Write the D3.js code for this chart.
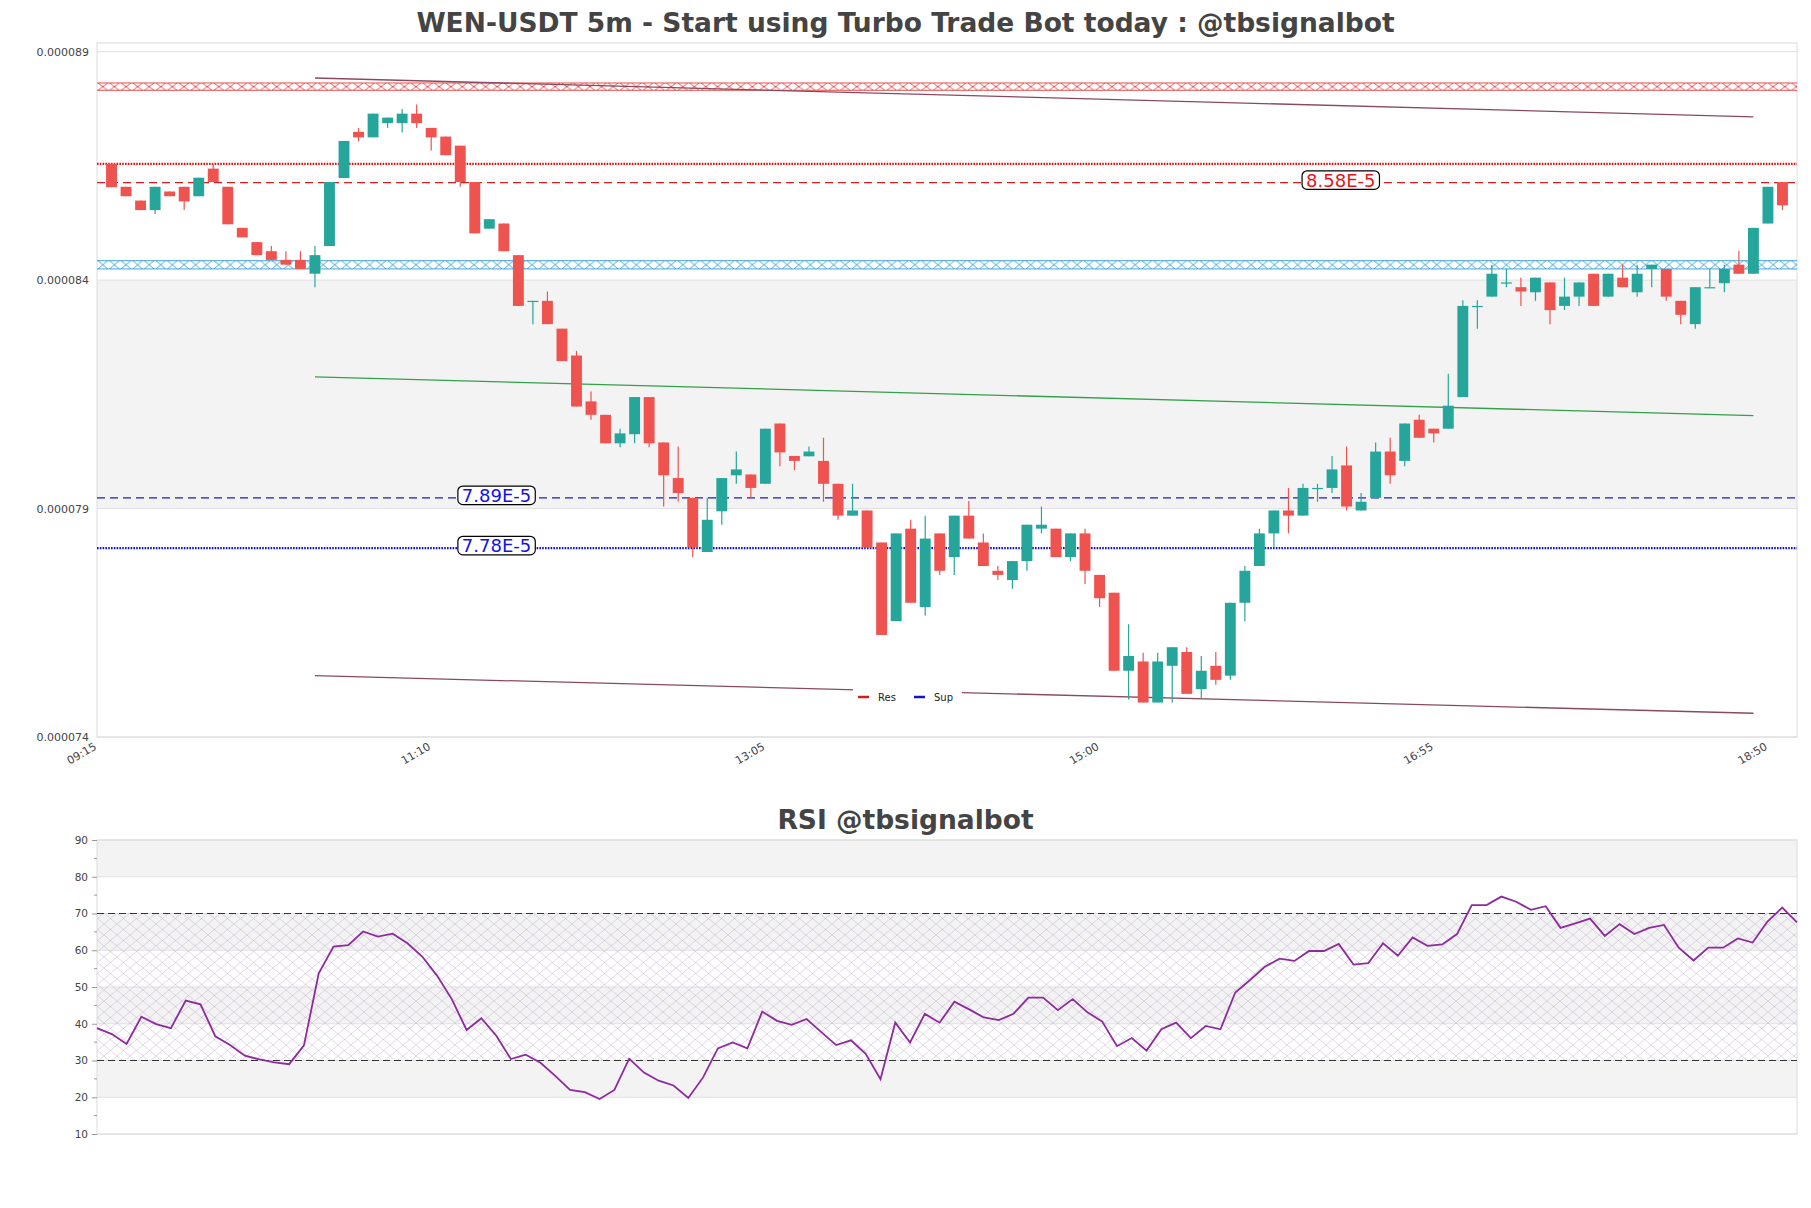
<!DOCTYPE html>
<html><head><meta charset="utf-8">
<script src="https://cdn.jsdelivr.net/npm/d3@7"></script>
<style>body{margin:0;background:#fff} svg{display:block;font-family:"DejaVu Sans",sans-serif}</style>
</head><body><svg id="c" width="1811" height="1208"></svg>
<script>
// ---------- DATA (prices in units of 1e-5 USDT) ----------
const titleMain = "WEN-USDT 5m - Start using Turbo Trade Bot today : @tbsignalbot";
const titleRsi = "RSI @tbsignalbot";
const xTickIndex = [-1, 22, 45, 68, 91, 114];
const xTickLabels = ["09:15", "11:10", "13:05", "15:00", "16:55", "18:50"];
const yTickValues = [7.3666, 7.8666, 8.3666, 8.8666];
const rsiTicks = [10, 20, 30, 40, 50, 60, 70, 80, 90];

const open = [8.6210,8.5708,8.5406,8.5198,8.5605,8.5708,8.5501,8.6106,8.5708,8.4809,8.4497,8.4298,8.4108,8.4108,8.3805,8.4411,8.5899,8.6911,8.6790,8.7101,8.7101,8.7309,8.6997,8.6807,8.6608,8.5812,8.4791,8.4904,8.4212,8.3205,8.3212,8.2603,8.2015,8.1011,8.0717,8.0094,8.0293,8.1106,8.0112,7.9333,7.8900,7.7715,7.8606,7.9394,7.9411,7.9208,8.0527,7.9817,7.9809,7.9709,7.9208,7.8511,7.8624,7.7923,7.6202,7.8226,7.6509,7.8122,7.7603,7.8511,7.7923,7.7304,7.7101,7.7516,7.8226,7.8226,7.7603,7.8122,7.7214,7.6824,7.5116,7.5319,7.4420,7.5224,7.5527,7.4714,7.5224,7.5008,7.6604,7.7408,7.8122,7.8624,7.8511,7.9110,7.9117,7.9610,7.8624,7.8900,7.9913,7.9709,8.0609,8.0414,8.0414,8.1106,8.3095,8.3304,8.3610,8.3511,8.3399,8.3615,8.3101,8.3304,8.3805,8.3304,8.3719,8.3399,8.3909,8.3909,8.3212,8.2702,8.3505,8.3598,8.4004,8.3805,8.4904,8.5812];
const high = [8.6210,8.5708,8.5406,8.5708,8.5605,8.5708,8.5907,8.6210,8.5708,8.4809,8.4497,8.4411,8.4298,8.4298,8.4411,8.5812,8.6712,8.6997,8.7309,8.7222,8.7413,8.7508,8.6997,8.6807,8.6608,8.5812,8.4999,8.4904,8.4212,8.3212,8.3416,8.2603,8.2118,8.1227,8.0717,8.0414,8.1106,8.1106,8.0112,8.0025,7.8900,7.8900,7.9333,7.9913,7.9411,8.0414,8.0527,7.9817,8.0025,8.0215,7.9208,7.9208,7.8624,7.7923,7.8122,7.8420,7.8511,7.8122,7.8511,7.8831,7.8122,7.7408,7.7516,7.8312,7.8710,7.8226,7.8122,7.8226,7.7214,7.6824,7.6132,7.5509,7.5509,7.5631,7.5631,7.5440,7.5527,7.6604,7.7408,7.8226,7.8624,7.9117,7.9208,7.9208,7.9817,8.0025,7.9004,8.0112,8.0215,8.0527,8.0717,8.0414,8.1617,8.3226,8.3226,8.4004,8.3918,8.3719,8.3719,8.3615,8.3719,8.3615,8.3805,8.3805,8.4004,8.4004,8.4004,8.3909,8.3212,8.3511,8.3909,8.4004,8.4307,8.4809,8.5708,8.5812];
const low = [8.5700,8.5501,8.5198,8.5112,8.5501,8.5198,8.5501,8.5812,8.4887,8.4601,8.4212,8.4108,8.4004,8.3909,8.3511,8.4411,8.5899,8.6703,8.6790,8.6997,8.6894,8.6997,8.6504,8.6400,8.5708,8.4688,8.4791,8.4298,8.3101,8.2702,8.2702,8.1894,8.0899,8.0609,8.0094,8.0008,8.0094,8.0008,7.8710,7.8814,7.7603,7.7715,7.8312,7.9208,7.8900,7.9208,7.9593,7.9506,7.9809,7.8814,7.8420,7.8511,7.7814,7.5899,7.6202,7.6604,7.6323,7.7214,7.7214,7.8009,7.7408,7.7101,7.6911,7.7304,7.8122,7.7603,7.7516,7.7015,7.6509,7.5116,7.4489,7.4420,7.4420,7.4420,7.4610,7.4515,7.4809,7.4917,7.6202,7.7408,7.7814,7.8122,7.8511,7.8814,7.9004,7.8624,7.8624,7.8900,7.9208,7.9593,8.0215,8.0112,8.0414,8.1106,8.2603,8.3304,8.3511,8.3101,8.3212,8.2702,8.3009,8.3101,8.3101,8.3304,8.3511,8.3304,8.3511,8.3212,8.2702,8.2603,8.3505,8.3399,8.3805,8.3805,8.4904,8.5198];
const close = [8.5700,8.5501,8.5198,8.5708,8.5501,8.5388,8.5907,8.5812,8.4887,8.4601,8.4212,8.4108,8.4004,8.3909,8.4212,8.5812,8.6712,8.6790,8.7309,8.7222,8.7309,8.7101,8.6790,8.6400,8.5812,8.4688,8.4999,8.4298,8.3101,8.3212,8.2702,8.1894,8.0899,8.0717,8.0094,8.0311,8.1106,8.0094,7.9394,7.9004,7.7814,7.8420,7.9333,7.9523,7.9117,8.0414,7.9895,7.9709,7.9913,7.9208,7.8511,7.8624,7.7814,7.5899,7.8122,7.6604,7.8009,7.7304,7.8511,7.8009,7.7408,7.7214,7.7516,7.8312,7.8312,7.7603,7.8122,7.7304,7.6703,7.5116,7.5440,7.4420,7.5319,7.5631,7.4610,7.5116,7.4917,7.6604,7.7304,7.8122,7.8624,7.8511,7.9117,7.9117,7.9523,7.8710,7.8814,7.9913,7.9394,8.0527,8.0215,8.0311,8.0916,8.3101,8.3101,8.3805,8.3615,8.3416,8.3719,8.3009,8.3304,8.3615,8.3101,8.3805,8.3511,8.3805,8.4004,8.3304,8.2906,8.3511,8.3511,8.3909,8.3805,8.4809,8.5708,8.5302];

const rsi = [38.8,37.2,34.5,41.9,39.9,38.8,46.3,45.3,36.6,34.2,31.3,30.3,29.5,29.0,34.1,53.7,61.0,61.4,65.1,63.7,64.5,61.9,58.3,53.1,46.7,38.3,41.5,36.8,30.4,31.6,29.4,25.8,22.0,21.4,19.5,22.0,30.5,26.7,24.5,23.2,19.8,25.4,33.3,34.9,33.3,43.3,40.8,39.7,41.3,37.7,34.2,35.5,31.8,24.9,40.3,34.9,42.7,40.3,46.0,43.9,41.7,41.0,42.7,47.1,47.1,43.7,46.7,43.1,40.6,33.9,36.1,32.7,38.5,40.3,36.1,39.4,38.5,48.5,51.9,55.5,57.7,57.1,59.8,59.8,61.7,56.1,56.5,61.9,58.5,63.5,61.2,61.6,64.4,72.3,72.3,74.6,73.2,71.0,72.0,66.1,67.3,68.6,63.9,67.1,64.4,66.1,66.9,60.7,57.2,60.7,60.7,63.2,62.1,67.8,71.6,67.6];

// horizontal levels
const resZone = [8.782, 8.798];
const supZone = [8.391, 8.409];
const resDotted = 8.6209;
const resDashed = 8.58;
const supDashed = 7.89;
const supDotted = 7.78;
const levelLabels = [
  {text: "8.58E-5", value: 8.58, at: 84.6, color: "#e8141c"},
  {text: "7.89E-5", value: 7.89, at: 26.5, color: "#1212e6"},
  {text: "7.78E-5", value: 7.78, at: 26.5, color: "#1212e6"}
];
// regression channel (start index, end index, start value, end value)
const chanIdx = [14, 113];
const chanUpper = [8.8089, 8.7240];
const chanMid = [8.1548, 8.0700];
const chanLower = [7.5008, 7.4186];
const legendItems = [{name: "Res", color: "#d61a1a"}, {name: "Sup", color: "#1515c8"}];

// ---------- LAYOUT ----------
const svg = d3.select("#c");
const P = {l: 97, r: 1797, t: 43, b: 737};
const Q = {t: 840, b: 1134};
const x = d3.scaleLinear().domain([-1, 116]).range([P.l, P.r]);
const y = d3.scaleLinear().domain([7.3666, 8.8855]).range([P.b, P.t]);
const xr = d3.scaleLinear().domain([0, rsi.length - 1]).range([P.l, P.r]);
const yr = d3.scaleLinear().domain([10, 90]).range([Q.b, Q.t]);
const bw = (x(1) - x(0)) * 0.75;
const up = "#26a69a", dn = "#ef5350";

svg.append("rect").attr("width", 1811).attr("height", 1208).attr("fill", "#fff");

// titles
svg.append("text").attr("x", 905.5).attr("y", 32).attr("text-anchor", "middle")
  .attr("font-size", 26.5).attr("font-weight", "bold").attr("fill", "#444").text(titleMain);
svg.append("text").attr("x", 905.5).attr("y", 829).attr("text-anchor", "middle")
  .attr("font-size", 26.5).attr("font-weight", "bold").attr("fill", "#444").text(titleRsi);

const defs = svg.append("defs");
function hatch(id, color, y0, h) {
  const p = defs.append("pattern").attr("id", id).attr("patternUnits", "userSpaceOnUse")
    .attr("x", P.l).attr("y", y0).attr("width", 11.6).attr("height", h);
  p.append("path").attr("d", `M1,0L10.6,${h}M1,${h}L10.6,0`).attr("stroke", color)
    .attr("stroke-width", 0.9).attr("fill", "none");
}
const rsiHatch = defs.append("pattern").attr("id", "rsiHatch").attr("patternUnits", "userSpaceOnUse")
  .attr("width", 13).attr("height", 11);
rsiHatch.append("path").attr("d", "M0,0L13,11M0,11L13,0").attr("stroke", "#bfb2cf")
  .attr("stroke-width", 0.6).attr("fill", "none").attr("opacity", 0.85);

// ---------- MAIN PANEL ----------
const main = svg.append("g");
main.append("rect").attr("x", P.l).attr("width", P.r - P.l)
  .attr("y", y(yTickValues[2])).attr("height", y(yTickValues[1]) - y(yTickValues[2])).attr("fill", "#f3f3f3");
main.selectAll(".grid").data(yTickValues).join("line")
  .attr("x1", P.l).attr("x2", P.r).attr("y1", d => y(d)).attr("y2", d => y(d))
  .attr("stroke", "#e0e0e0").attr("stroke-width", 1);
main.append("rect").attr("x", P.l).attr("y", P.t).attr("width", P.r - P.l).attr("height", P.b - P.t)
  .attr("fill", "none").attr("stroke", "#dcdcdc");

// y axis
const ya = main.append("g").attr("transform", `translate(${P.l},0)`)
  .call(d3.axisLeft(y).tickValues(yTickValues).tickSize(0).tickPadding(8)
    .tickFormat(d => (d * 1e-5).toFixed(6)));
ya.select(".domain").remove();
ya.selectAll("text").attr("font-size", 11).attr("fill", "#444").attr("font-family", "DejaVu Sans");

// x labels
main.selectAll(".xl").data(xTickIndex).join("text")
  .attr("transform", d => `translate(${x(d) - 2},${P.b + 8}) rotate(-30)`)
  .attr("text-anchor", "end").attr("font-size", 11).attr("fill", "#444")
  .attr("dy", "0.4em").text((d, i) => xTickLabels[i]);

// hatched zones
function zone(z, id, color) {
  const y0 = y(z[1]), h = y(z[0]) - y(z[1]);
  hatch(id, color, y0, h);
  main.append("rect").attr("x", P.l).attr("width", P.r - P.l).attr("y", y0).attr("height", h)
    .attr("fill", `url(#${id})`);
  main.append("line").attr("x1", P.l).attr("x2", P.r).attr("y1", y0).attr("y2", y0).attr("stroke", color).attr("stroke-width", 0.9);
  main.append("line").attr("x1", P.l).attr("x2", P.r).attr("y1", y0 + h).attr("y2", y0 + h).attr("stroke", color).attr("stroke-width", 0.9);
}
zone(resZone, "hr", "#e23b3b");
zone(supZone, "hb", "#2a9ad8");

function hline(v, color, w, dash) {
  main.append("line").attr("x1", P.l).attr("x2", P.r).attr("y1", y(v)).attr("y2", y(v))
    .attr("stroke", color).attr("stroke-width", w).attr("stroke-dasharray", dash);
}
hline(resDotted, "#e31010", 2.2, "1.6,1.2");
hline(resDashed, "#d81e1e", 1.4, "8,5");
hline(supDashed, "#1a1acc", 1.4, "8,5");
hline(supDotted, "#1010dd", 2.2, "1.6,1.2");

// channel lines
function chan(vals, color) {
  main.append("line").attr("x1", x(chanIdx[0])).attr("x2", x(chanIdx[1]))
    .attr("y1", y(vals[0])).attr("y2", y(vals[1])).attr("stroke", color).attr("stroke-width", 1.3);
}
chan(chanUpper, "#8a4a5e");
chan(chanMid, "#33a04a");
chan(chanLower, "#8a4a5e");

// candles
const idx = d3.range(open.length);
const cg = main.append("g");
cg.selectAll(".wick").data(idx).join("line")
  .attr("x1", i => x(i)).attr("x2", i => x(i))
  .attr("y1", i => y(high[i])).attr("y2", i => y(low[i]))
  .attr("stroke", i => close[i] >= open[i] ? up : dn).attr("stroke-width", 1.2);
cg.selectAll(".body").data(idx).join("rect")
  .attr("x", i => x(i) - bw / 2).attr("width", bw)
  .attr("y", i => y(Math.max(open[i], close[i])))
  .attr("height", i => Math.max(1.2, Math.abs(y(open[i]) - y(close[i]))))
  .attr("fill", i => close[i] >= open[i] ? up : dn);

// level labels
levelLabels.forEach(L => {
  const g = main.append("g");
  const t = g.append("text").attr("x", x(L.at)).attr("y", y(L.value) - 2.5).attr("dy", "0.36em")
    .attr("text-anchor", "middle").attr("font-size", 18).attr("fill", L.color).text(L.text);
  const bb = t.node().getBBox();
  g.insert("rect", "text").attr("x", bb.x - 4).attr("y", y(L.value) - 2.5 - 9.3)
    .attr("width", bb.width + 8).attr("height", 18.6).attr("rx", 5)
    .attr("fill", "#fff").attr("stroke", "#000").attr("stroke-width", 1.2);
});

// legend
const lg = main.append("g").attr("transform", `translate(853,686)`);
lg.append("rect").attr("width", 109).attr("height", 21).attr("fill", "#fff");
legendItems.forEach((d, i) => {
  const gx = 5 + i * 56;
  lg.append("line").attr("x1", gx).attr("x2", gx + 11).attr("y1", 11).attr("y2", 11)
    .attr("stroke", d.color).attr("stroke-width", 2.5);
  lg.append("text").attr("x", gx + 20).attr("y", 11).attr("dy", "0.35em")
    .attr("font-size", 10).attr("fill", "#222").text(d.name);
});

// ---------- RSI PANEL ----------
const rp = svg.append("g");
[[80, 90], [60, 70], [40, 50], [20, 30]].forEach(b => {
  rp.append("rect").attr("x", P.l).attr("width", P.r - P.l).attr("y", yr(b[1]))
    .attr("height", yr(b[0]) - yr(b[1])).attr("fill", "#f3f3f3");
});
rp.selectAll(".rg").data(rsiTicks).join("line")
  .attr("x1", P.l).attr("x2", P.r).attr("y1", d => yr(d)).attr("y2", d => yr(d))
  .attr("stroke", "#e0e0e0");
rp.append("rect").attr("x", P.l).attr("width", P.r - P.l).attr("y", yr(70))
  .attr("height", yr(30) - yr(70)).attr("fill", "url(#rsiHatch)");
rp.append("rect").attr("x", P.l).attr("y", Q.t).attr("width", P.r - P.l).attr("height", Q.b - Q.t)
  .attr("fill", "none").attr("stroke", "#dcdcdc");
[30, 70].forEach(v => {
  rp.append("line").attr("x1", P.l).attr("x2", P.r).attr("y1", yr(v)).attr("y2", yr(v))
    .attr("stroke", "#333").attr("stroke-width", 1.1).attr("stroke-dasharray", "7,4");
});
const ra = rp.append("g").attr("transform", `translate(${P.l},0)`)
  .call(d3.axisLeft(yr).tickValues(rsiTicks).tickSize(5).tickPadding(4));
ra.select(".domain").remove();
ra.selectAll("line").attr("stroke", "#999");
ra.selectAll("text").attr("font-size", 10.5).attr("fill", "#444").attr("font-family", "DejaVu Sans");
rp.selectAll(".mt").data(d3.range(15, 90, 10)).join("line")
  .attr("x1", P.l - 3).attr("x2", P.l).attr("y1", d => yr(d)).attr("y2", d => yr(d)).attr("stroke", "#999");

rp.append("path").datum(rsi)
  .attr("d", d3.line().x((d, i) => xr(i)).y(d => yr(d)))
  .attr("fill", "none").attr("stroke", "#8e2a9e").attr("stroke-width", 1.8);
</script>
</body></html>
